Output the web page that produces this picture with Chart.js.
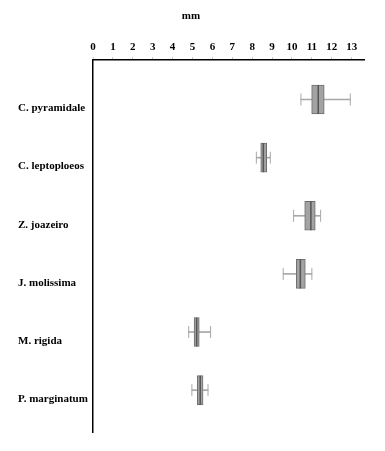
<!DOCTYPE html>
<html>
<head>
<meta charset="utf-8">
<script src="https://cdn.jsdelivr.net/npm/chart.js@4.4.1/dist/chart.umd.min.js"></script>
<style>
  html, body { margin: 0; padding: 0; background: #fff; }
  #wrap { width: 385px; height: 451px; }
</style>
</head>
<body>
<div id="wrap"><canvas id="boxChart"></canvas></div>
<script>
// species, top to bottom
const species = ['C. pyramidale', 'C. leptoploeos', 'Z. joazeiro', 'J. molissima', 'M. rigida', 'P. marginatum'];
// box plot values in mm
const minVals = [10.45, 8.21, 10.08, 9.56, 4.81, 4.97];
const q1Vals = [10.99, 8.43, 10.64, 10.22, 5.08, 5.24];
const medianVals = [11.32, 8.56, 10.95, 10.42, 5.21, 5.39];
const q3Vals = [11.62, 8.73, 11.17, 10.67, 5.34, 5.53];
const maxVals = [12.93, 8.91, 11.44, 11.0, 5.91, 5.78];
const xTicks = [0, 1, 2, 3, 4, 5, 6, 7, 8, 9, 10, 11, 12, 13];

const serif = "'Liberation Serif', 'DejaVu Serif', serif";

const whiskerData = species.map((s, i) => ({ y: i, x: [minVals[i], maxVals[i]] }));
const boxData = species.map((s, i) => ({ y: i, x: [q1Vals[i], q3Vals[i]] }));
const medianData = species.map((s, i) => ({ y: i, x: medianVals[i] }));
const capData = species.flatMap((s, i) => [{ y: i, x: minVals[i] }, { y: i, x: maxVals[i] }]);

const onlyTicks = (values) => (scale) => {
  scale.ticks = values.map(v => ({ value: v }));
};

new Chart(document.getElementById('boxChart'), {
  data: {
    datasets: [
      {
        type: 'bar',
        indexAxis: 'y',
        data: whiskerData,
        backgroundColor: '#a8a8a8',
        borderWidth: 0,
        barThickness: 1,
        grouped: false,
        order: 3
      },
      {
        type: 'bar',
        indexAxis: 'y',
        data: boxData,
        backgroundColor: '#a3a3a3',
        borderColor: '#6e6e6e',
        borderWidth: 1,
        borderSkipped: false,
        barThickness: 29,
        grouped: false,
        order: 2
      },
      {
        type: 'scatter',
        data: capData,
        pointStyle: 'line',
        rotation: 90,
        radius: 6,
        borderColor: '#a8a8a8',
        borderWidth: 1,
        order: 1
      },
      {
        type: 'scatter',
        data: medianData,
        pointStyle: 'line',
        rotation: 90,
        radius: 14.5,
        borderColor: '#555555',
        borderWidth: 1.5,
        order: 0
      }
    ]
  },
  options: {
    responsive: true,
    maintainAspectRatio: false,
    animation: false,
    layout: { padding: { left: 18, right: 21, top: 0, bottom: 19 } },
    plugins: {
      legend: { display: false },
      tooltip: { enabled: false },
      title: {
        display: true,
        text: 'mm',
        color: '#000',
        padding: { top: 10, bottom: 0 },
        font: { family: serif, size: 11, weight: 'bold', lineHeight: 1.2 }
      }
    },
    scales: {
      x: {
        type: 'linear',
        position: 'top',
        min: 0,
        max: 13.62,
        afterBuildTicks: onlyTicks(xTicks),
        afterFit: (scale) => { scale.height = 36.8; },
        border: { display: true, color: '#000', width: 1.5 },
        grid: { drawOnChartArea: false, drawTicks: true, tickLength: 3, color: '#c8c8c8' },
        ticks: {
          color: '#000',
          padding: 3,
          maxRotation: 0,
          autoSkip: false,
          font: { family: serif, size: 11, weight: 'bold' }
        }
      },
      y: {
        type: 'linear',
        reverse: true,
        offset: false,
        min: -0.68,
        max: 5.72,
        afterBuildTicks: onlyTicks(species.map((s, i) => i)),
        afterFit: (scale) => { scale.width = 75; },
        border: { display: true, color: '#000', width: 1.5 },
        grid: { display: false },
        ticks: {
          color: '#000',
          crossAlign: 'far',
          labelOffset: 9,
          autoSkip: false,
          font: { family: serif, size: 11, weight: 'bold' },
          callback: (v) => species[v]
        }
      }
    }
  }
});
</script>
</body>
</html>
